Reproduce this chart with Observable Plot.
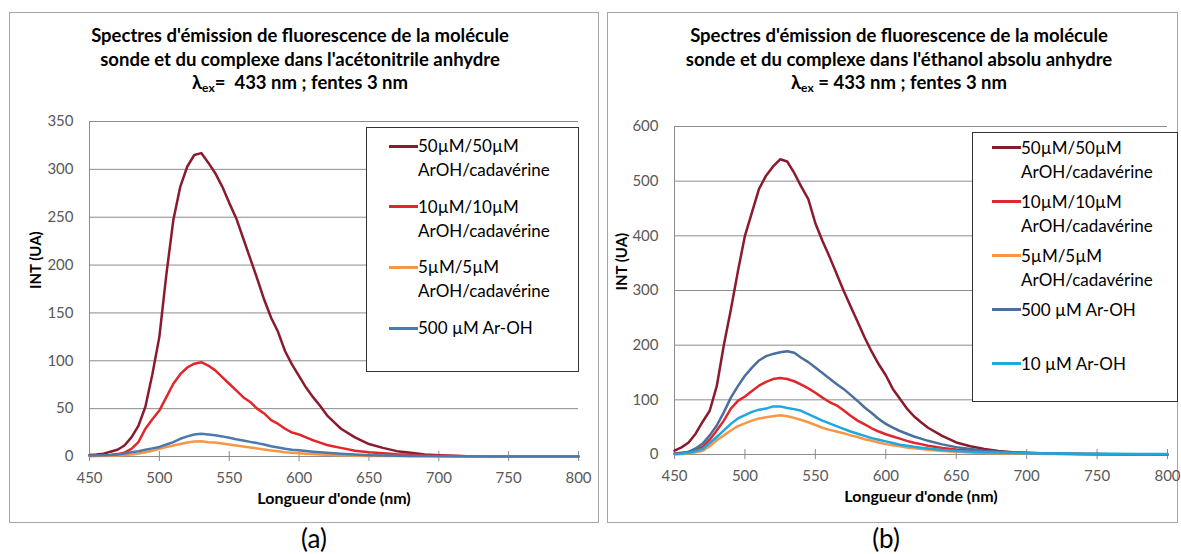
<!DOCTYPE html>
<html><head><meta charset="utf-8">
<script src="https://cdn.jsdelivr.net/npm/d3@7"></script>
<script src="https://cdn.jsdelivr.net/npm/@observablehq/plot@0.6"></script>
<style>
body{margin:0;width:1181px;height:554px;background:#fff;position:relative;font-family:Lato,"Open Sans",sans-serif;overflow:hidden}
.panel{position:absolute;border:1px solid #a6a6a6;box-sizing:border-box}
.title{position:absolute;font-weight:bold;font-size:18.5px;line-height:23.5px;text-align:center;white-space:nowrap;color:#000;transform:translateX(-50%)}
.title sub{font-size:12px;vertical-align:-3px;line-height:0}
.plot{position:absolute}
.legend{position:absolute;border:1px solid #333;background:#fff;box-sizing:border-box}
.item{position:absolute;display:flex;align-items:flex-start;font-size:17px;line-height:24px;white-space:nowrap;color:#000}
.sw{display:inline-block;width:29px;height:3px;margin-top:10.5px;flex:none}
.cap{position:absolute;font-size:26px;line-height:30px;transform:translateX(-50%)}
</style></head><body>
<div class="panel" style="left:9px;top:12px;width:590px;height:511px"></div>
<div class="panel" style="left:607px;top:12px;width:571px;height:511px"></div>
<div id="root"></div>
<script>
// ---------- data ----------
const wavelengths = [450,455,460,465,470,475,480,485,490,495,500,505,510,515,520,525,530,535,540,545,550,555,560,565,570,575,580,585,590,595,600,605,610,615,620,625,630,640,650,660,670,680,690,700,720,740,760,780,800];
const xTicks = [450,500,550,600,650,700,750,800];
const yTicksA = [0,50,100,150,200,250,300,350];
const yTicksB = [0,100,200,300,400,500,600];

// (a) acetonitrile
const namesA = ["50µM/50µM|ArOH/cadavérine","10µM/10µM|ArOH/cadavérine","5µM/5µM|ArOH/cadavérine","500 µM Ar-OH"];
const colorsA = ["#8c1a2f","#e3262b","#f79646","#4a7ab0"];
const a50 = [1.5,2,3,5,7,11.5,20,32,52,86,125,190,247,282,303,315,317,307,296,282,265,249,228,207,186,164,145,130,110,96,84,72,62,53,43,36,29,20,13,9,5.6,3.8,2,1.4,0.3,0.1,0,0,0];
const a10 = [0.5,0.7,1,1.5,2.5,4,8,15,29,39,48,62,76,86,93,97,98.5,95,90,83,76,69,62,57,50,45,38,34,29,25,23,20,17,14.5,12,10.5,9,6,4.5,3.5,2.4,1.7,1,0.7,0.3,0.1,0,0,0];
const a5 = [0.5,0.5,0.5,0.8,1,1.5,2,3,4.5,6,8,10,11.5,13,14.6,15.7,16,15,14.6,13.5,12.5,11.5,10.5,9.5,8.4,7.3,6.3,5.4,4.5,4,3.5,3,2.5,2.1,1.8,1.5,1.2,0.9,0.6,0.5,0.4,0.3,0.2,0.2,0.1,0,0,0,0];
const aArOH500 = [1,1.1,1.2,1.5,2,3,4.5,5.5,7,8.5,10,12.5,15,18.5,21,23,23.7,23,22.3,21,19.5,18,16.7,15.3,14,12.5,10.8,9.5,8,7,6.5,5.7,5,4.4,3.8,3.3,2.8,2,1.4,1,0.7,0.5,0.4,0.3,0.2,0.1,0.1,0,0];

// (b) ethanol
const namesB = ["50µM/50µM|ArOH/cadavérine","10µM/10µM|ArOH/cadavérine","5µM/5µM|ArOH/cadavérine","500 µM Ar-OH|","10 µM Ar-OH"];
const colorsB = ["#8c1a2f","#e3262b","#f79646","#4a6f9c","#1fa7e0"];
const b50 = [7,13,22,38,60,80,125,200,265,335,400,443,486,510,527,540,536,515,490,467,423,391,362,331,300,271,243,214,188,165,145,120,102,84,70,59,49,34,22,15,10,6.5,4,3,1.5,0.7,0.4,0.2,0];
const b10 = [2,3,4,8,14,27,44,62,84,98,106,116,126,133,138,140,138,134,128,121,113,104,96,90,81,71,62,55,48,42,37,33,29,25,21.5,19,16,12,9,6.8,5,3.8,2.8,2.2,1.5,0.9,0.5,0.3,0.2];
const b5 = [0.5,1,2,4,7,15,26,35,44,52,57,62,66,68,70,72,70,67,63,59,54,49,45,42,39,35,32,28,25,22,19,17,15,13,11.5,10,8.8,6.5,4.8,3.6,2.8,2.2,1.8,1.4,1,0.7,0.5,0.4,0.3];
const bArOH500 = [1,2,5,11,20,35,53,77,104,125,144,159,172,180,184,187,189,186,177,169,159,149,139,129,120,109,98,86,76,65,56,49,43,38,33,29,25,18.5,13.5,10,7,5,3.6,2.8,1.8,1,0.6,0.3,0.2];
const bArOH10 = [1,1.5,3,6,10,21,32,44,56,66,72,78,82,84,88,88,85,83,80,74,68,62,57,52,47,42,38,34,30,27,24,21,18,16,14,12.5,11,8.3,6.4,5.2,4.2,3.5,2.9,2.5,1.9,1.5,1.2,1,0.8];

const titleA = ["Spectres d'émission de fluorescence de la molécule","sonde et du complexe dans l'acétonitrile anhydre","λ<sub>ex</sub>=&nbsp; 433 nm ; fentes 3 nm"];
const titleB = ["Spectres d'émission de fluorescence de la molécule","sonde et du complexe dans l'éthanol absolu anhydre","λ<sub>ex</sub> = 433 nm ; fentes 3 nm"];
const yLabel = "INT (UA)";
const xLabel = "Longueur d'onde (nm)";
const captions = ["(a)","(b)"];

// ---------- build ----------
function tidy(names, arrays){
  return names.flatMap((n,i)=>wavelengths.map((w,j)=>({x:w,y:arrays[i][j],s:n})));
}
const FONT = "Lato, 'Open Sans', sans-serif";
function chart(o){
  return Plot.plot({
    width:o.width, height:o.height,
    marginLeft:o.ml, marginRight:o.mr, marginTop:o.mt, marginBottom:o.mb,
    style:{fontFamily:FONT, fontSize:"15px", background:"transparent", overflow:"visible"},
    x:{domain:[450,800]},
    y:{domain:[0,o.yTicks[o.yTicks.length-1]]},
    color:{domain:o.names, range:o.colors},
    marks:[
      Plot.ruleY(o.yTicks,{stroke:"#8c8c8c",strokeWidth:1}),
      Plot.ruleX([450],{stroke:"#8c8c8c"}),
      Plot.ruleX(xTicks,{x:d=>d,y1:0,y2:0,insetTop:-5,insetBottom:-5,stroke:"#8c8c8c"}),
      Plot.axisY(o.yTicks,{tickSize:0,tickPadding:16,fill:"#595959",label:null}),
      Plot.axisX(xTicks,{tickSize:0,tickPadding:16,fill:"#595959",label:null}),
      Plot.line(o.data,{x:"x",y:"y",z:"s",stroke:"s",strokeWidth:2.5,strokeLinejoin:"round"}),
      Plot.text([yLabel],{frameAnchor:"left",dx:o.ylx,rotate:-90,fontWeight:"bold",fontSize:15,fill:"#000"}),
      Plot.text([xLabel],{frameAnchor:"bottom",dy:47,fontWeight:"bold",fontSize:16,fill:"#000"})
    ]
  });
}
const root = document.getElementById("root");
function place(el, left, top, cls){
  el.classList.add(cls); el.style.left=left+"px"; el.style.top=top+"px"; root.appendChild(el); return el;
}
const pa = chart({data:tidy(namesA,[a50,a10,a5,aArOH500]),names:namesA,colors:colorsA,yTicks:yTicksA,
  width:589,height:420,ml:80,mr:20,mt:21,mb:64,ylx:-53});
place(pa,9,100,"plot");
const pb = chart({data:tidy(namesB,[b50,b10,b5,bArOH500,bArOH10]),names:namesB,colors:colorsB,yTicks:yTicksB,
  width:570,height:420,ml:67,mr:10,mt:26,mb:66,ylx:-52});
place(pb,607,100,"plot");

function title(lines, cx){
  const d=document.createElement("div"); d.innerHTML=lines.join("<br>");
  place(d,cx,24,"title");
}
title(titleA,300); title(titleB,899);

function legend(names, colors, box, sx, top0, step){
  const b=document.createElement("div");
  b.style.width=box[2]+"px"; b.style.height=box[3]+"px";
  place(b,box[0],box[1],"legend");
  names.forEach((n,i)=>{
    const it=document.createElement("div");
    it.innerHTML=`<span class="sw" style="background:${colors[i]}"></span><span>${n.split("|").join("<br>")}</span>`;
    place(it,sx,top0+i*step,"item");
  });
}
legend(namesA,colorsA,[366,127,213,245],389,134,60.7);
legend(namesB,colorsB,[972,132,206,270],992,135.5,54);

captions.forEach((c,i)=>{
  const d=document.createElement("div"); d.textContent=c;
  place(d,[314,886][i],523,"cap");
});
</script>
</body></html>
